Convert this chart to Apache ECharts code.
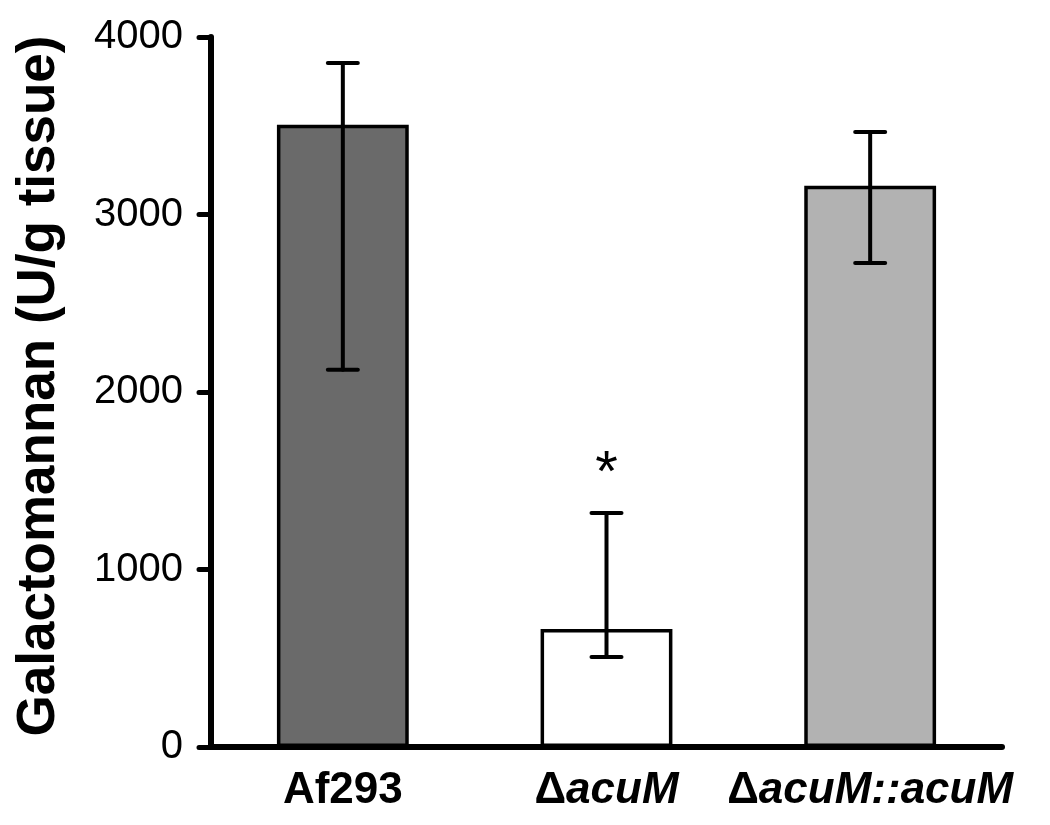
<!DOCTYPE html>
<html>
<head>
<meta charset="utf-8">
<script src="https://cdn.jsdelivr.net/npm/echarts@6/dist/echarts.min.js"></script>
<style>html,body{margin:0;padding:0;background:#fff;}#c{width:1050px;height:825px;}</style>
</head>
<body>
<div id="c"></div>
<script>
var categories = ['Af293', 'ΔacuM', 'ΔacuM::acuM'];
var means = [3505, 665, 3162];
var errLow = [2125, 507, 2727];
var errHigh = [3853, 1318, 3465];
var significance = ['', '*', ''];
var barColors = ['#6a6a6a', '#ffffff', '#b2b2b2'];
var yTicks = [0, 1000, 2000, 3000, 4000];
var yTitle = 'Galactomannan (U/g tissue)';

var FONT = '"Liberation Sans", Arial, sans-serif';
var chart = echarts.init(document.getElementById('c'), null, {renderer: 'canvas'});

var errData = categories.map(function (c, i) { return [i, errLow[i], errHigh[i], significance[i]]; });

chart.setOption({
  animation: false,
  backgroundColor: '#ffffff',
  grid: {left: 211, right: 48, top: 37, bottom: 78, containLabel: false, outerBoundsMode: 'none'},
  graphic: [{
    type: 'text',
    x: 39, y: 386,
    rotation: Math.PI / 2,
    style: {text: yTitle, fill: '#000', font: 'bold 53px ' + FONT,
      textAlign: 'center', textVerticalAlign: 'middle'}
  }],
  xAxis: {
    type: 'category',
    data: categories,
    axisLine: {lineStyle: {color: '#000', width: 6, cap: 'round'}},
    axisTick: {show: false},
    axisLabel: {
      margin: 22,
      formatter: function (v) {
        if (v.charAt(0) === 'Δ') return '{d|Δ}{i|' + v.slice(1) + '}';
        return '{b|' + v + '}';
      },
      rich: {
        b: {fontFamily: FONT, fontWeight: 'bold', fontSize: 44, color: '#000'},
        d: {fontFamily: FONT, fontWeight: 'bold', fontSize: 44, color: '#000'},
        i: {fontFamily: FONT, fontWeight: 'bold', fontStyle: 'italic', fontSize: 44, color: '#000'}
      }
    }
  },
  yAxis: {
    type: 'value',
    min: yTicks[0],
    max: yTicks[yTicks.length - 1],
    interval: 1000,
    axisLine: {show: true, lineStyle: {color: '#000', width: 6, cap: 'round'}},
    axisTick: {show: true, length: 12, lineStyle: {color: '#000', width: 5, cap: 'round'}},
    axisLabel: {margin: 28, fontFamily: FONT, fontSize: 40, color: '#000',
      formatter: function (v) { return String(v); }},
    splitLine: {show: false}
  },
  series: [
    {
      type: 'bar',
      barWidth: '50%',
      data: means.map(function (v, i) {
        return {value: v, itemStyle: {color: barColors[i]}};
      }),
      itemStyle: {borderColor: '#000', borderWidth: 3.5}
    },
    {
      type: 'custom',
      data: errData,
      z: 10,
      renderItem: function (params, api) {
        var i = api.value(0);
        var lo = api.coord([i, api.value(1)]);
        var hi = api.coord([i, api.value(2)]);
        var hw = 15;
        var st = {stroke: '#000', lineWidth: 4, lineCap: 'round'};
        var children = [
          {type: 'line', shape: {x1: hi[0], y1: hi[1], x2: lo[0], y2: lo[1]}, style: st},
          {type: 'line', shape: {x1: hi[0] - hw, y1: hi[1], x2: hi[0] + hw, y2: hi[1]}, style: st},
          {type: 'line', shape: {x1: lo[0] - hw, y1: lo[1], x2: lo[0] + hw, y2: lo[1]}, style: st}
        ];
        var sig = errData[params.dataIndex][3];
        if (sig) {
          children.push({type: 'text', style: {text: sig, x: hi[0], y: hi[1] - 38, fill: '#000',
            font: '58px ' + FONT, textAlign: 'center', textVerticalAlign: 'middle'}});
        }
        return {type: 'group', children: children};
      }
    }
  ]
});
</script>
</body>
</html>
